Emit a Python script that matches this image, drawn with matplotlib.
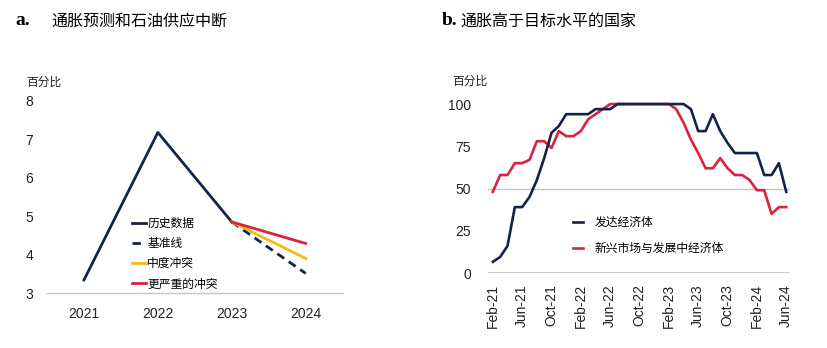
import matplotlib
matplotlib.use('Agg')
import matplotlib.pyplot as plt
import pandas as pd

# 字体: 数字用 Liberation Sans, 中文回退到 Noto Sans CJK SC
plt.rcParams['font.family'] = ['Liberation Sans', 'Noto Sans CJK SC']
plt.rcParams['axes.unicode_minus'] = False

NAVY = '#13244a'
RED = '#d9233f'
YELLOW = '#f3b91f'
GRAY = '#c4c4c4'
TXT = '#222222'

# ---- 数据 a: 通胀预测 ----
years = [2021, 2022, 2023, 2024]
history = [3.34, 7.18, 4.85]
baseline = [4.85, 3.51]
moderate = [4.85, 3.90]
severe = [4.85, 4.29]

# ---- 数据 b: 通胀高于目标的国家占比 ----
months = pd.date_range('2021-02-01', '2024-06-01', freq='MS')
month_labels = [d.strftime('%b-%y') for d in months]
advanced = [6.6, 9.5, 16, 39, 39, 45, 55, 68, 83, 87,
            94, 94, 94, 94, 97, 97, 97, 100, 100, 100,
            100, 100, 100, 100, 100, 100, 100, 97, 84, 84,
            94, 84, 77, 71, 71, 71, 71, 58, 58, 65, 48]
emerging = [48, 58, 58, 65, 65, 67, 78, 78, 74, 84,
            81, 81, 84, 91, 94, 97, 100, 100, 100, 100,
            100, 100, 100, 100, 100, 97, 89, 79, 71, 62,
            62, 68, 62, 58, 58, 55, 49, 49, 35, 39, 39]

fig = plt.figure(figsize=(8.28, 3.48), dpi=100)

# ================= 面板 a =================
ax1 = fig.add_axes([0.0568, 0.158, 0.357, 0.552])
ax1.plot(years[:3], history, color=NAVY, lw=2.0, label='历史数据')
ax1.plot(years[2:], baseline, color=NAVY, lw=2.0, ls=(0, (3, 2)), label='基准线')
ax1.plot(years[2:], moderate, color=YELLOW, lw=2.0, label='中度冲突')
ax1.plot(years[2:], severe, color=RED, lw=2.0, label='更严重的冲突')
ax1.set_xlim(2020.5, 2024.5)
ax1.set_ylim(3, 8)
ax1.set_xticks(years)
ax1.set_yticks(range(3, 9))
for s in ['top', 'right', 'left']:
    ax1.spines[s].set_visible(False)
ax1.spines['bottom'].set_color(GRAY)
ax1.spines['bottom'].set_linewidth(1.0)
ax1.tick_params(length=0, labelsize=10, colors=TXT)
ax1.tick_params(axis='y', pad=10)
ax1.tick_params(axis='x', pad=10)
fig.legend(*ax1.get_legend_handles_labels(), loc='upper left',
           bbox_to_anchor=(0.160, 0.373), frameon=False, fontsize=8.5,
           handlelength=1.15, handletextpad=0.1, labelspacing=0.68,
           borderpad=0, borderaxespad=0)

fig.text(0.032, 0.762, '百分比', fontsize=8.5, color=TXT, va='center')
fig.text(0.018, 0.94, 'a.', family='Liberation Serif', fontweight='bold',
         fontsize=14, va='center')
fig.text(0.062, 0.94, '通胀预测和石油供应中断', fontsize=11.5, va='center')

# ================= 面板 b =================
ax2 = fig.add_axes([0.589, 0.2155, 0.365, 0.4855])
x = list(range(len(month_labels)))
ax2.axhline(50, color=GRAY, lw=1.0, zorder=1)
ax2.axhline(0, color=GRAY, lw=1.2, zorder=1)
ax2.plot(x, advanced, color=NAVY, lw=1.9, clip_on=False, zorder=3, label='发达经济体')
ax2.plot(x, emerging, color=RED, lw=1.9, clip_on=False, zorder=2,
         label='新兴市场与发展中经济体')
ax2.set_xlim(-0.7, 40.5)
ax2.set_ylim(0, 100)
ax2.set_yticks([0, 25, 50, 75, 100])
ax2.set_xticks(x[::4])
ax2.set_xticklabels(month_labels[::4], rotation=90)
for s in ax2.spines.values():
    s.set_visible(False)
ax2.tick_params(length=0, labelsize=10, colors=TXT)
ax2.tick_params(axis='y', pad=12)
ax2.tick_params(axis='x', pad=8)
fig.legend(*ax2.get_legend_handles_labels(), loc='upper left',
           bbox_to_anchor=(0.692, 0.376), frameon=False, fontsize=8.5,
           handlelength=0.85, handletextpad=1.0, labelspacing=1.15,
           borderpad=0, borderaxespad=0)

fig.text(0.546, 0.765, '百分比', fontsize=8.5, color=TXT, va='center')
fig.text(0.533, 0.94, 'b.', family='Liberation Serif', fontweight='bold',
         fontsize=14, va='center')
fig.text(0.556, 0.94, '通胀高于目标水平的国家', fontsize=11.5, va='center')

plt.savefig('out.png', dpi=100)
